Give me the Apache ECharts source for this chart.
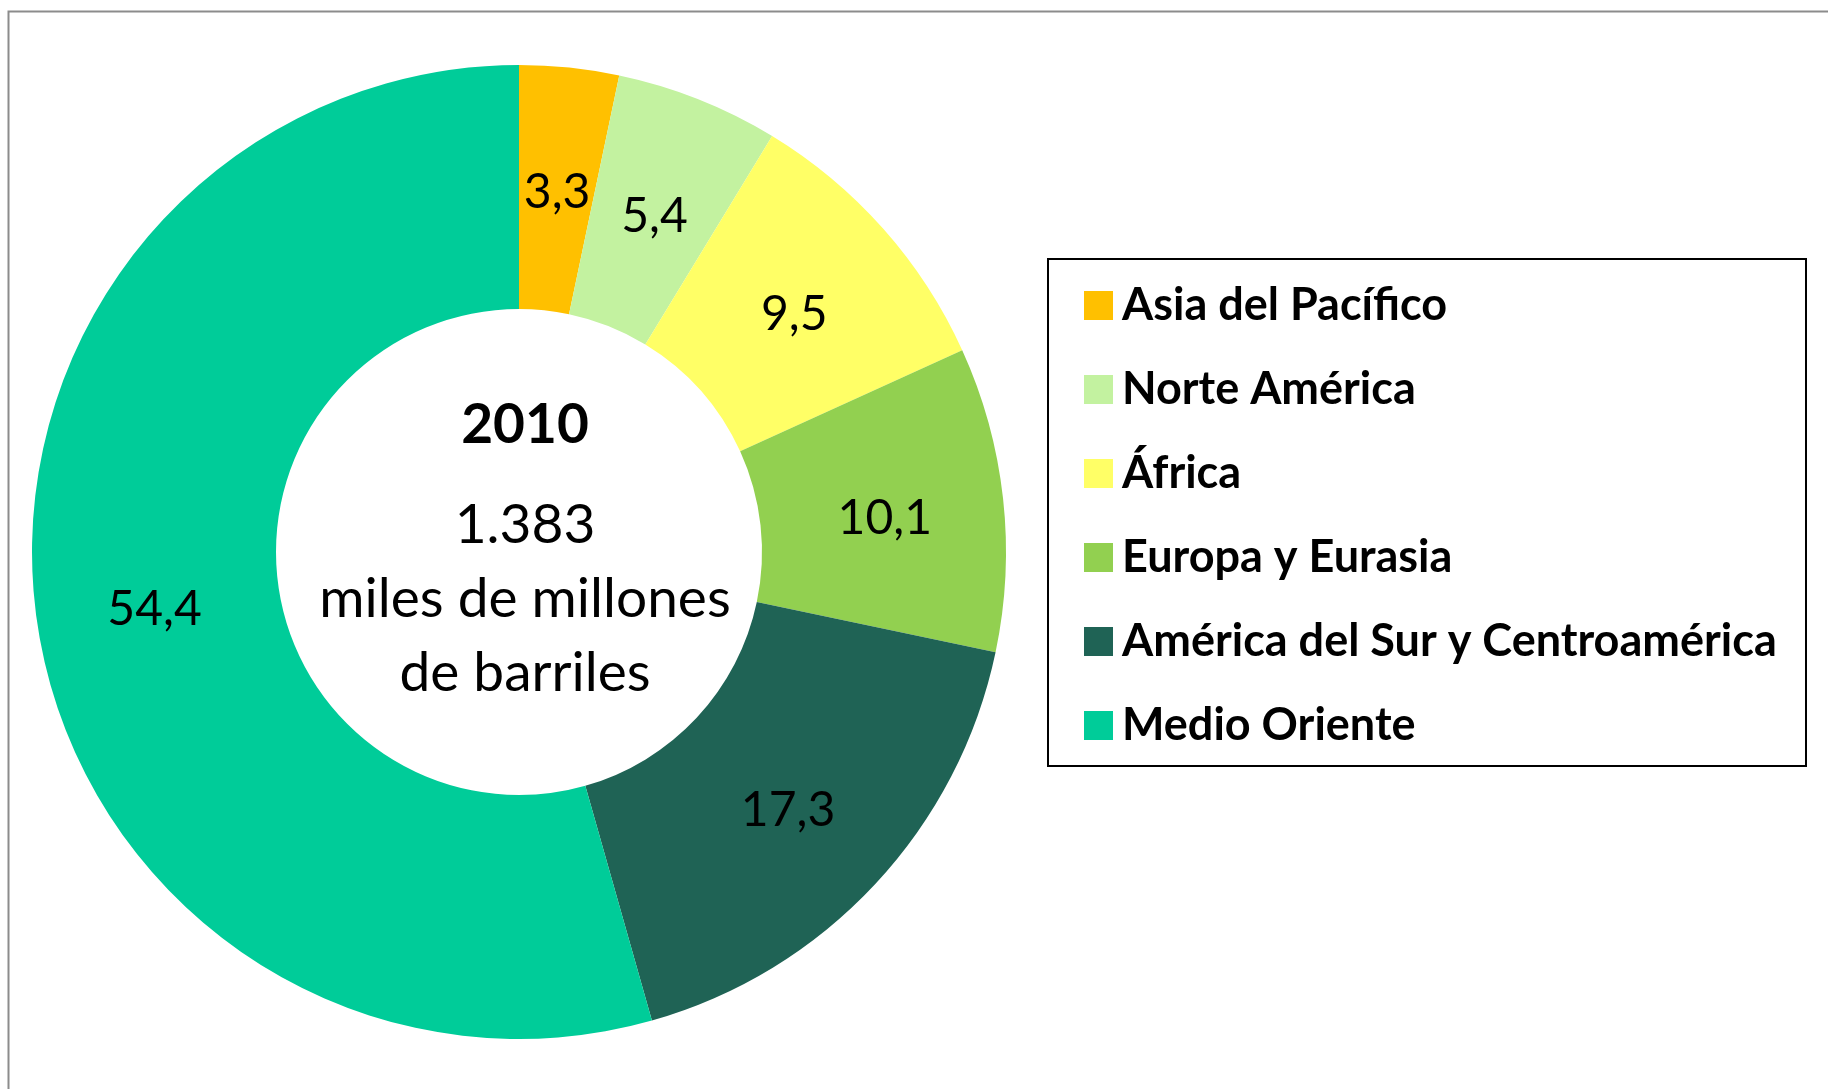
<!DOCTYPE html>
<html>
<head>
<meta charset="utf-8">
<script src="https://cdn.jsdelivr.net/npm/echarts@6/dist/echarts.min.js"></script>
<style>
  html, body { margin: 0; padding: 0; background: #fff; }
  #chart { width: 1828px; height: 1089px; }
</style>
</head>
<body>
<div id="chart"></div>
<script>
// Reservas probadas de petróleo por región, 2010 (%)
const regiones = ['Asia del Pacífico', 'Norte América', 'África', 'Europa y Eurasia', 'América del Sur y Centroamérica', 'Medio Oriente'];
const porcentajes = [3.3, 5.4, 9.5, 10.1, 17.3, 54.4];
const colores = ['#FFC000', '#C3F2A0', '#FFFF66', '#92D050', '#1F6355', '#00CC99'];

const anio = '2010';
const total = '1.383';
const unidad = ['miles de millones', 'de barriles'];

const FONT = 'Lato, "Open Sans", sans-serif';

const chart = echarts.init(document.getElementById('chart'));

// texto central del anillo
const centerText = (text, y, bold) => ({
  type: 'text',
  x: 525,
  y: y,
  style: {
    text: text,
    fill: '#000',
    font: (bold ? 'bold ' : '') + '55px ' + FONT,
    align: 'center',
    verticalAlign: 'middle'
  }
});

chart.setOption({
  animation: false,
  backgroundColor: '#fff',
  legend: {
    orient: 'vertical',
    left: 1079,
    top: 278,
    icon: 'rect',
    itemWidth: 29,
    itemHeight: 29,
    itemGap: 39,
    selectedMode: false,
    textStyle: {
      fontFamily: FONT,
      fontWeight: 'bold',
      fontSize: 45,
      color: '#000',
      padding: [0, 0, 0, 4]
    },
    data: regiones
  },
  graphic: [
    {
      type: 'rect',
      shape: { x: 8.5, y: 11.5, width: 1900, height: 1200 },
      style: { fill: 'none', stroke: '#8c8c8c', lineWidth: 2 },
      silent: true
    },
    {
      type: 'rect',
      shape: { x: 1048, y: 259, width: 758, height: 507 },
      style: { fill: 'none', stroke: '#000', lineWidth: 2 },
      silent: true
    },
    centerText(anio, 425, true),
    centerText(total, 525, false),
    centerText(unidad[0], 599, false),
    centerText(unidad[1], 673, false)
  ],
  series: [{
    type: 'pie',
    center: [519, 552],
    radius: [243, 487],
    startAngle: 90,
    clockwise: true,
    silent: true,
    label: {
      show: true,
      position: 'inside',
      offset: [0, 7],
      fontFamily: FONT,
      fontSize: 48,
      color: '#000',
      formatter: p => String(p.value).replace('.', ',')
    },
    labelLine: { show: false },
    itemStyle: { borderWidth: 0 },
    data: regiones.map((r, i) => ({
      name: r,
      value: porcentajes[i],
      itemStyle: { color: colores[i] }
    }))
  }]
});
</script>
</body>
</html>
